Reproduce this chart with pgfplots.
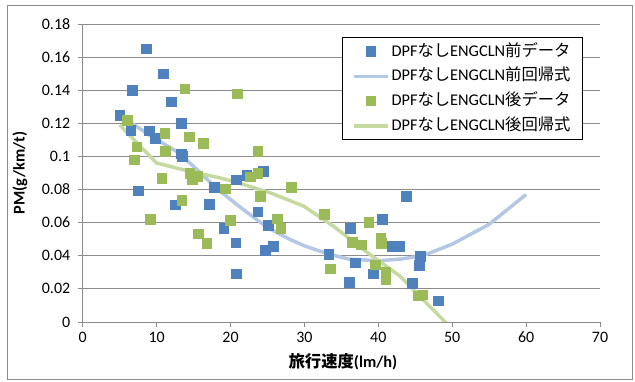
\documentclass[border=0pt]{standalone}
\usepackage{fontspec}
\setmainfont{Carlito}
\newfontfamily\jp{Noto Sans CJK JP}
\usepackage{pgfplots}
\pgfplotsset{compat=1.18}
\definecolor{ser1}{HTML}{4F81BD}
\definecolor{ser2}{HTML}{9BBB59}
\definecolor{fit1}{HTML}{B4C8E3}
\definecolor{fit2}{HTML}{C6D9A0}
\definecolor{gridc}{HTML}{8C8C8C}
\pgfplotsset{
 scatleg/.style={legend image code/.code={\draw[mark repeat=2,mark phase=2,##1] plot coordinates {(0bp,0bp) (17bp,0bp) (34bp,0bp)};}},
 lineleg/.style={legend image code/.code={\draw[##1] (0bp,0bp) -- (34bp,0bp);}},
}
\begin{document}
\begin{tikzpicture}
\useasboundingbox (-82.7bp,-60bp) rectangle (552.3bp,322bp);
\draw[gridc, line width=0.8bp] (-75.7bp,-57bp) rectangle (549.3bp,316.3bp);
\begin{axis}[
 scale only axis, width=517.3bp, height=298bp,
 xmin=0, xmax=70, ymin=0, ymax=0.18,
 xtick={0,10,20,30,40,50,60,70},
 ytick={0,0.02,0.04,0.06,0.08,0.1,0.12,0.14,0.16,0.18},
 axis x line*=bottom, axis y line*=left,
 axis line style={gridc, line width=0.8bp, -},
 tick align=outside, major tick length=5bp,
 tick style={gridc, line width=0.8bp},
 ymajorgrids, grid style={gridc, line width=0.8bp},
 tick label style={font=\fontsize{16}{19}\selectfont},
 /pgf/number format/assume math mode=true,
 yticklabel style={/pgf/number format/fixed, /pgf/number format/precision=2, xshift=-4bp},
 xticklabel style={yshift=-1.5bp},
 xlabel={{\jp\bfseries 旅行速度}\textbf{(lm/h)}},
 ylabel={\textbf{PM(g/km/t)}},
 label style={font=\fontsize{16.4}{19}\selectfont},
 xlabel style={at={(rel axis cs:0.503,-0.134)}, anchor=center},
 ylabel style={at={(rel axis cs:-0.1212,0.5)}, anchor=center},
 legend style={at={(rel axis cs:0.967,0.955)}, anchor=north east, draw=black,
   line width=0.8bp, fill=white, font=\fontsize{16.4}{19}\selectfont,
   inner xsep=10bp, inner ysep=1.5bp,
   nodes={text height=12.2bp, text depth=3.5bp, inner ysep=4.5bp}, row sep=0pt},
 legend cell align=left,
]
\addplot[only marks, mark=square*, mark size=4.8bp, mark options={fill=ser1, draw=ser1}, scatleg]
 coordinates {
 (8.6,0.165) (10.9,0.150) (6.7,0.140) (12.0,0.133) (5.0,0.125) (13.3,0.120)
 (6.5,0.116) (9.0,0.1155) (9.8,0.111) (13.3,0.1016) (13.5,0.1002) (20.8,0.086)
 (22.2,0.0887) (24.4,0.091) (7.5,0.0794) (12.5,0.0709) (17.1,0.0711) (17.8,0.0814)
 (23.7,0.0667) (19.1,0.0566) (20.7,0.0479) (20.8,0.0291) (25.1,0.0586) (24.7,0.0434)
 (25.8,0.0459) (43.8,0.0759) (36.2,0.0568) (40.5,0.0622) (41.9,0.0459) (42.9,0.0459)
 (33.3,0.0408) (36.9,0.0357) (39.3,0.0291) (36.1,0.0240) (45.7,0.0398) (45.5,0.0343)
 (44.6,0.0234) (48.1,0.0129)
 };
\addlegendentry{DPF{\jp なし}ENGCLN{\jp 前データ}}
\addplot[fit1, line width=3.5bp, no marks, lineleg]
 coordinates {
 (5,0.125) (9,0.113) (12.7,0.103) (15,0.094) (17.8,0.082) (20,0.074) (22,0.067)
 (25,0.057) (28,0.050) (30,0.046) (33.3,0.041) (36,0.038) (40,0.037) (43,0.038)
 (46,0.040) (50,0.047) (55,0.059) (60,0.077)
 };
\addlegendentry{DPF{\jp なし}ENGCLN{\jp 前回帰式}}
\addplot[only marks, mark=square*, mark size=4.8bp, mark options={fill=ser2, draw=ser2}, scatleg]
 coordinates {
 (6.0,0.122) (13.8,0.141) (20.9,0.138) (11.1,0.114) (14.4,0.112) (16.3,0.108)
 (7.3,0.106) (7.0,0.098) (11.2,0.103) (23.7,0.103) (14.5,0.090) (14.8,0.086)
 (15.5,0.088) (10.7,0.087) (22.7,0.0877) (23.7,0.090) (9.1,0.062) (13.4,0.0737)
 (19.3,0.0806) (28.2,0.0814) (24.0,0.0759) (20.0,0.0614) (15.6,0.0533) (16.8,0.0477)
 (26.3,0.0624) (26.8,0.0568) (32.7,0.065) (38.7,0.0602) (36.5,0.0483) (37.7,0.0467)
 (40.3,0.0507) (40.4,0.0477) (33.5,0.0323) (39.6,0.0345) (41.0,0.0301) (41.0,0.0259)
 (45.4,0.0159) (45.9,0.0164)
 };
\addlegendentry{DPF{\jp なし}ENGCLN{\jp 後データ}}
\addplot[fit2, line width=3.5bp, no marks, lineleg]
 coordinates {
 (5,0.119) (10,0.096) (14.5,0.091) (18.6,0.087) (20.8,0.0844) (25.4,0.078)
 (29.9,0.070) (33.9,0.058) (38.5,0.042) (43,0.0275) (47.5,0.007) (49.5,-0.002)
 };
\addlegendentry{DPF{\jp なし}ENGCLN{\jp 後回帰式}}
\end{axis}
\end{tikzpicture}
\end{document}
